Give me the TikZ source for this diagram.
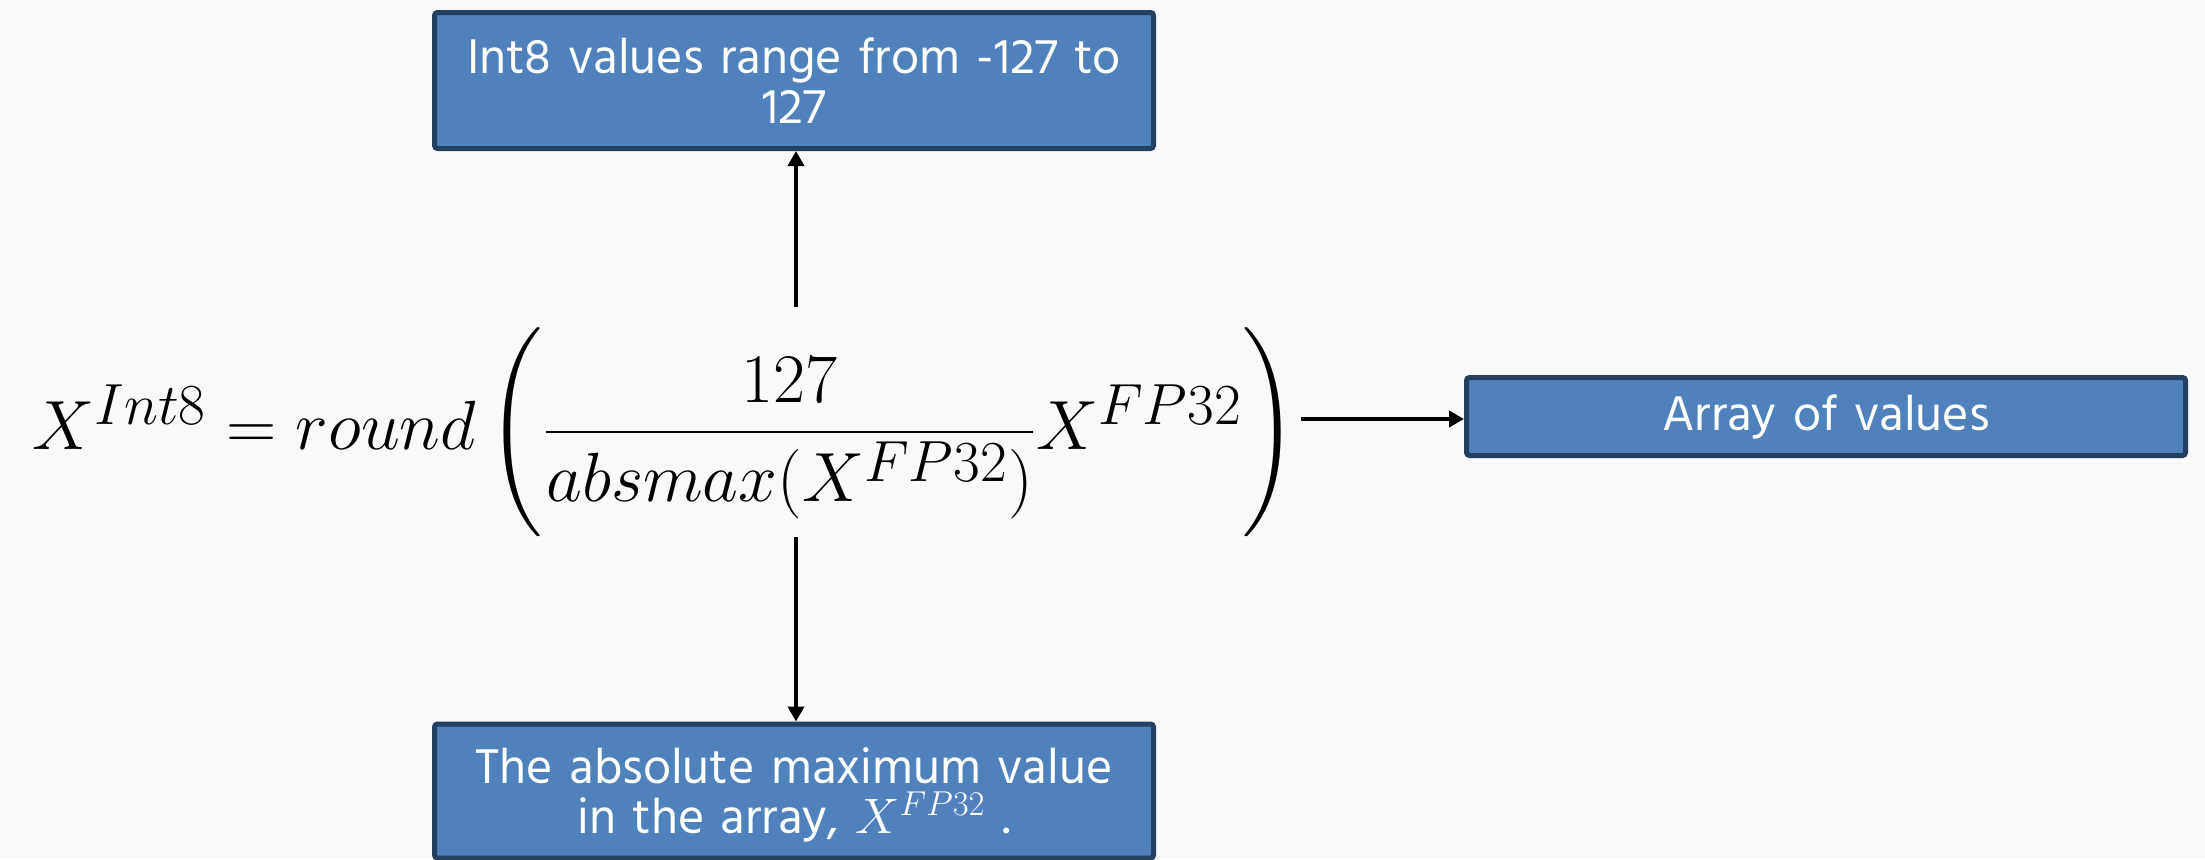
\documentclass[tikz,border=0pt]{standalone}
\usepackage{fontspec}
\usepackage{amsmath}
\usepackage{graphicx}
\newfontfamily\hind{Hind Siliguri}
\usetikzlibrary{arrows.meta,calc}
\definecolor{bgc}{HTML}{F9F9F9}
\definecolor{boxfill}{HTML}{4F81BD}
\definecolor{boxline}{HTML}{243F60}
\newcommand{\tallstrut}{\vcenter{\hbox{\rule{0pt}{68pt}}}}
\tikzset{
  bluebox/.style={draw=boxline, line width=2.5pt, fill=boxfill, rounded corners=1.5pt,
    minimum width=359.5pt, text=white, font=\hind\fontsize{25}{25}\selectfont,
    align=center, inner sep=0pt},
  conn/.style={line width=2pt, -{Triangle[length=7.5pt,width=8pt]}}
}
\begin{document}
\begin{tikzpicture}[x=0.5pt,y=-0.5pt]
\useasboundingbox (0,0) rectangle (2205,859);
\fill[bgc] (0,0) rectangle (2205,859);
\node[bluebox, minimum height=68pt, text width=355pt] (top) at (794,80.5) {Int8 values range from -127 to\\127};
\node[bluebox, minimum height=39pt, text width=355pt] (right) at (1826,416.5) {Array of values};
\node[bluebox, minimum height=67pt, text width=355pt] (bot) at (794,791) {\rule{0pt}{22pt}The absolute maximum value\\in the array, $X^{FP32}$ .};
\node[inner sep=0pt] (formula) at (665,432) {\scalebox{1.40}{\fontsize{24.88}{28}\selectfont
  $X^{Int8}=round\left(\tallstrut\dfrac{127}{absmax(X^{FP32})}X^{FP32}\right)$}};
\coordinate (ftop) at (796,307);
\coordinate (fbot) at (796,537);
\coordinate (fright) at (1301,419);
\draw[conn] (ftop) -- (ftop |- top.south);
\draw[conn] (fbot) -- (fbot |- bot.north);
\draw[conn] (fright) -- (fright -| right.west);
\end{tikzpicture}
\end{document}
